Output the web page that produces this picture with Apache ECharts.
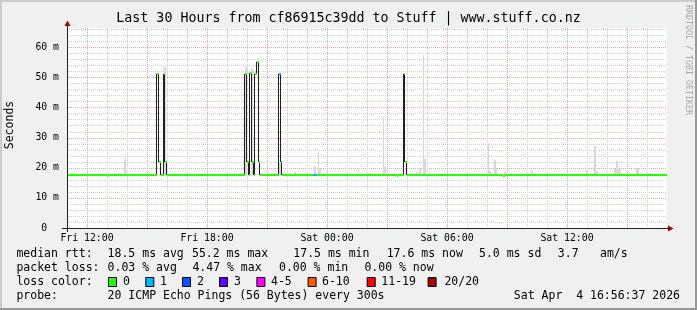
<!DOCTYPE html>
<html><head><meta charset="utf-8">
<script src="https://cdn.jsdelivr.net/npm/echarts@6/dist/echarts.min.js"></script>
<style>html,body{margin:0;padding:0;background:#f0f0f0}#c{width:697px;height:310px}</style>
</head><body><div id="c"></div>
<script>
// ---------------- data ----------------
const titleText = 'Last 30 Hours from cf86915c39dd to Stuff | www.stuff.co.nz';
const yAxisTitle = 'Seconds';
const sideText = 'RRDTOOL / TOBI OETIKER';
// x axis: hours since Fri 11:00
const xLabelHours = [1, 7, 13, 19, 25];
const xLabelTexts = ['Fri 12:00', 'Fri 18:00', 'Sat 00:00', 'Sat 06:00', 'Sat 12:00'];
const yLabelValues = [0, 10, 20, 30, 40, 50, 60];
const yLabelTexts = ['0  ', '10 m', '20 m', '30 m', '40 m', '50 m', '60 m'];
// median rtt change points (hour, ms), value held until next point
const medianHours = [0, 1.98, 2.06, 4.515, 4.60, 4.685, 4.825, 4.91, 4.995, 8.915, 9.0, 9.085, 9.165, 9.25, 9.335, 9.415, 9.5, 9.585, 9.665, 10.6, 10.685, 10.77, 12.315, 12.485, 16.485, 16.565, 16.835, 16.92, 17.005, 21.815, 21.885, 30];
const medianMs    = [17.6, 17.2, 17.6, 51.2, 21.9, 17.6, 51.2, 21.9, 17.6, 51.2, 21.9, 17.6, 51.6, 21.9, 17.6, 51.2, 55.3, 21.9, 17.6, 51.2, 21.9, 17.6, 17.6, 17.6, 17.2, 17.6, 51.2, 21.9, 17.6, 17.2, 17.6, 17.6];
const medianLoss  = [0, 0, 0, 0, 0, 0, 0, 0, 0, 0, 0, 0, 0, 0, 0, 0, 0, 0, 0, 1, 1, 0, 1, 0, 0, 0, 0, 0, 0, 0, 0, 0];
// smoke (ping spread) columns
const smokeStart = [2.35, 2.53, 2.85, 4.85, 8.915, 9.2, 8.4, 10.6, 11.1, 11.35, 12.33, 12.53, 12.55, 14.55, 15.1, 15.78, 15.82, 17.45, 17.6, 17.8, 17.82, 18.1, 21.05, 21.05, 21.35, 21.35, 21.87, 23.2, 25.95, 26.35, 26.4, 27.45, 27.35, 28.45, 29.1];
const smokeEnd   = [2.43, 2.62, 2.95, 4.95, 9.0, 9.285, 8.45, 10.77, 11.2, 11.45, 12.43, 12.6, 12.68, 14.6, 15.18, 15.85, 15.95, 17.55, 17.7, 17.87, 17.95, 18.18, 21.1, 21.19, 21.45, 21.52, 21.97, 23.28, 26.05, 26.45, 26.53, 27.55, 27.68, 28.6, 29.18];
const smokeTop   = [18.4, 18.5, 23.0, 53.6, 53.5, 52.8, 18.4, 21.9, 18.2, 18.6, 20.6, 25.4, 19.8, 19.6, 18.3, 37.0, 20.4, 18.5, 20.0, 57.6, 23.0, 18.4, 28.4, 19.1, 22.6, 19.8, 18.7, 19.1, 19.1, 27.4, 19.1, 22.3, 19.5, 20.0, 18.4];
const smokeFloorMs = 17.4;
// loss legend
const lossLabels = ['0', '1', '2', '3', '4-5', '6-10', '11-19', '20/20'];
const lossUpper  = [0, 1, 2, 3, 5, 10, 19, 20];
const lossColors = ['#22ff00', '#00b8ff', '#0059ff', '#5e00ff', '#ff00ff', '#ff5a00', '#ff0000', '#a10000'];
// statistics text
const rttHead = 'median rtt:';
const rttStats = ['18.5 ms avg', '55.2 ms max', '17.5 ms min', '17.6 ms now', '5.0 ms sd', '3.7', 'am/s'];
const lossHead = 'packet loss:';
const lossStats = ['0.03 % avg', '4.47 % max', '0.00 % min', '0.00 % now'];
const colorHead = 'loss color:';
const probeHead = 'probe:';
const probeText = '20 ICMP Echo Pings (56 Bytes) every 300s';
const dateText = 'Sat Apr  4 16:56:37 2026';

// ---------------- layout ----------------
const G = { left: 67, top: 28, width: 600, height: 200 };
const MONO = '"DejaVu Sans Mono", monospace';
const legendX = 16.4;
const rttX = [107.6, 192, 293.3, 386.7, 479, 557.8, 600];
const lossX = [107.6, 192.4, 279, 364.4];
const boxX = [108, 145.3, 182, 219, 256.4, 307.6, 366.7, 427.6];
const boxLabelX = [123, 160, 197, 234, 271, 322, 381.3, 444.4];
const rowY = [254, 268, 282, 296];
const MAJOR = '#eba3a3', MINOR = '#d2d2d2';

function lossClass(n) { for (let i = 0; i < lossUpper.length; i++) if (n <= lossUpper[i]) return i; return lossUpper.length - 1; }

const xGridColors = []; for (let h = 0; h <= 31; h++) xGridColors.push(h % 3 === 1 ? MAJOR : MINOR);
const yGridColors = []; for (let v = 0; v <= 66; v += 2) yGridColors.push(v % 10 === 0 ? MAJOR : MINOR); yGridColors.push('rgba(0,0,0,0)');

// vertical transitions of the median: [hour, fromMs, toMs]
const jumpData = [];
for (let i = 1; i < medianHours.length; i++) if (medianMs[i] !== medianMs[i - 1]) jumpData.push([medianHours[i], medianMs[i - 1], medianMs[i]]);
// horizontal, loss-coloured median segments: [startHour, endHour, ms, loss]
const segData = [];
for (let i = 0; i < medianHours.length - 1; i++) segData.push([medianHours[i], medianHours[i + 1], medianMs[i], medianLoss[i]]);
const smokeData = smokeStart.map((s, i) => [s, smokeEnd[i], smokeTop[i], smokeFloorMs]);

function txt(x, y, text, opts) {
  return Object.assign({ type: 'text', x: x, y: y, silent: true,
    style: Object.assign({ text: text, font: '11.5px ' + MONO, fill: '#000', align: 'left', verticalAlign: 'middle' }, (opts || {})) });
}
const graphics = [
  { type: 'rect', shape: { x: 0, y: 0, width: 697, height: 2 }, style: { fill: '#cbcbcb' }, silent: true },
  { type: 'rect', shape: { x: 0, y: 0, width: 2, height: 310 }, style: { fill: '#cbcbcb' }, silent: true },
  { type: 'rect', shape: { x: 0, y: 308, width: 697, height: 2 }, style: { fill: '#999999' }, silent: true },
  { type: 'rect', shape: { x: 695, y: 0, width: 2, height: 310 }, style: { fill: '#999999' }, silent: true },
  txt(348.5, 19, titleText, { font: '13.3px ' + MONO, align: 'center' }),
  Object.assign(txt(10, 125, yAxisTitle, { font: '11.5px ' + MONO, align: 'center' }), { rotation: Math.PI / 2 }),
  Object.assign(txt(688.5, 60, sideText, { font: '8.3px ' + MONO, align: 'center', fill: '#a8a8a8' }), { rotation: -Math.PI / 2 }),
  { type: 'line', shape: { x1: 62, y1: G.top + G.height + 0.5, x2: 669, y2: G.top + G.height + 0.5 }, style: { stroke: '#202020', lineWidth: 1 }, silent: true, z: 50 },
  { type: 'line', shape: { x1: G.left + 0.5, y1: G.top + G.height + 4, x2: G.left + 0.5, y2: 25 }, style: { stroke: '#202020', lineWidth: 1 }, silent: true, z: 50 },
  { type: 'polygon', shape: { points: [[668, 225.5], [673.5, 228.5], [668, 231.5]] }, style: { fill: '#a00000' }, silent: true, z: 51 },
  { type: 'polygon', shape: { points: [[64.5, 26], [67.5, 20.5], [70.5, 26]] }, style: { fill: '#a00000' }, silent: true, z: 51 },
  txt(legendX, rowY[0], rttHead), txt(legendX, rowY[1], lossHead), txt(legendX, rowY[2], colorHead), txt(legendX, rowY[3], probeHead),
  txt(rttX[0], rowY[3], probeText),
  txt(680, rowY[3], dateText, { align: 'right' })
];
rttStats.forEach((s, i) => graphics.push(txt(rttX[i], rowY[0], s)));
lossStats.forEach((s, i) => graphics.push(txt(lossX[i], rowY[1], s)));
lossLabels.forEach((s, i) => {
  graphics.push({ type: 'rect', silent: true, shape: { x: boxX[i] + 0.5, y: rowY[2] - 4.5, width: 8, height: 9 }, style: { fill: lossColors[i], stroke: '#000', lineWidth: 1 } });
  graphics.push(txt(boxLabelX[i], rowY[2], s));
});

const chart = echarts.init(document.getElementById('c'), null, { renderer: 'canvas' });
chart.setOption({
  animation: false,
  backgroundColor: '#f0f0f0',
  grid: Object.assign({ show: true, backgroundColor: '#ffffff', borderWidth: 0, containLabel: false, outerBoundsMode: 'none' }, G),
  xAxis: {
    type: 'value', min: 0, max: 30, interval: 1,
    axisLine: { show: false }, axisTick: { show: false },
    axisLabel: { margin: 5, fontFamily: MONO, fontSize: 9.8, color: '#000',
      formatter: v => { const i = xLabelHours.indexOf(v); return i >= 0 ? xLabelTexts[i] : ''; } },
    splitLine: { show: true, showMaxLine: false, lineStyle: { type: 'dotted', width: 1, color: xGridColors } }
  },
  yAxis: {
    type: 'value', min: 0, max: 66.5, interval: 2,
    axisLine: { show: false }, axisTick: { show: false },
    axisLabel: { margin: 8, fontFamily: MONO, fontSize: 9.8, color: '#000', showMaxLabel: false,
      formatter: v => { const i = yLabelValues.indexOf(v); return i >= 0 ? yLabelTexts[i] : ''; } },
    splitLine: { show: true, showMaxLine: false, lineStyle: { type: 'dotted', width: 1, color: yGridColors } }
  },
  series: [
    { type: 'custom', name: 'smoke', z: 1, data: smokeData, encode: { x: [0, 1], y: [2, 3] }, clip: true, silent: true,
      renderItem: (params, api) => {
        const a = api.coord([api.value(0), api.value(2)]);
        const b = api.coord([api.value(1), api.value(3)]);
        const x0 = Math.round(a[0]), x1 = Math.max(x0 + 1, Math.round(b[0]));
        return { type: 'rect', shape: { x: x0, y: Math.round(a[1]), width: x1 - x0, height: Math.round(b[1]) - Math.round(a[1]) }, style: { fill: '#d8d8d8' } };
      } },
    { type: 'custom', name: 'median', z: 2, data: jumpData, encode: { x: 0, y: [1, 2] }, clip: true, silent: true,
      renderItem: (params, api) => {
        const a = api.coord([api.value(0), api.value(1)]);
        const b = api.coord([api.value(0), api.value(2)]);
        const x = Math.round(a[0]) - 0.5;
        return { type: 'line', shape: { x1: x, y1: Math.round(a[1]), x2: x, y2: Math.round(b[1]) }, style: { stroke: '#202020', lineWidth: 1 } };
      } },
    { type: 'custom', name: 'loss', z: 5, data: segData, encode: { x: [0, 1], y: 2 }, clip: true, silent: true,
      renderItem: (params, api) => {
        const a = api.coord([api.value(0), api.value(2)]);
        const b = api.coord([api.value(1), api.value(2)]);
        const y = Math.round(a[1]);
        const x0 = Math.round(a[0]), x1 = Math.round(b[0]);
        return { type: 'rect', shape: { x: x0, y: y - 1, width: x1 - x0, height: 2 }, style: { fill: lossColors[lossClass(api.value(3))] } };
      } }
  ],
  graphic: graphics
});
</script></body></html>
